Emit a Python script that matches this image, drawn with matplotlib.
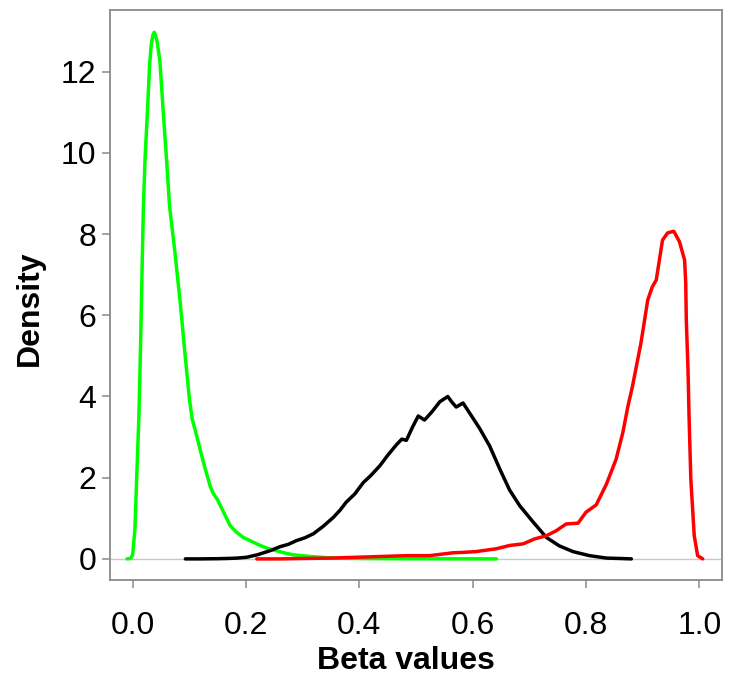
#!/usr/bin/env python3
import matplotlib

matplotlib.use("Agg")

import matplotlib.pyplot as plt


OUTPUT_PNG = "out.png"

# density curves (x = beta value, y = density)
green_x = [-0.010, -0.004, 0.000, 0.004, 0.007, 0.011, 0.014, 0.017, 0.019, 0.022,
           0.026, 0.030, 0.033, 0.036, 0.038, 0.040, 0.043, 0.048, 0.054, 0.060,
           0.065, 0.075, 0.084, 0.092, 0.100, 0.105, 0.110, 0.119, 0.125, 0.137,
           0.142, 0.150, 0.157, 0.164, 0.172, 0.183, 0.195, 0.207, 0.225, 0.240,
           0.254, 0.270, 0.283, 0.298, 0.313, 0.333, 0.353, 0.400, 0.450, 0.500,
           0.550, 0.600, 0.642]
green_y = [0.0, 0.01, 0.10, 0.74, 1.96, 3.5, 5.3, 7.4, 8.7, 9.9,
           11.0, 12.2, 12.7, 12.92, 12.97, 12.92, 12.75, 12.27, 11.0, 9.8,
           8.7, 7.5, 6.3, 5.1, 3.95, 3.45, 3.19, 2.7, 2.37, 1.78,
           1.62, 1.45, 1.25, 1.05, 0.82, 0.66, 0.53, 0.45, 0.33, 0.25,
           0.20, 0.14, 0.10, 0.08, 0.06, 0.04, 0.02, 0.01, 0.005, 0.003,
           0.002, 0.001, 0.0]

black_x = [0.093, 0.120, 0.150, 0.166, 0.185, 0.201, 0.220, 0.242, 0.260, 0.275,
           0.289, 0.304, 0.319, 0.336, 0.354, 0.366, 0.377, 0.392, 0.407, 0.420,
           0.436, 0.450, 0.466, 0.475, 0.483, 0.494, 0.504, 0.515, 0.528, 0.542,
           0.556, 0.564, 0.571, 0.583, 0.598, 0.612, 0.630, 0.648, 0.665, 0.683,
           0.706, 0.730, 0.753, 0.777, 0.806, 0.836, 0.860, 0.880]
black_y = [0.0, 0.0, 0.005, 0.01, 0.02, 0.04, 0.10, 0.20, 0.30, 0.36,
           0.45, 0.52, 0.62, 0.80, 1.02, 1.20, 1.40, 1.60, 1.88, 2.05,
           2.29, 2.55, 2.82, 2.95, 2.92, 3.25, 3.52, 3.42, 3.62, 3.87,
           4.0, 3.85, 3.74, 3.84, 3.52, 3.22, 2.78, 2.21, 1.70, 1.31,
           0.92, 0.53, 0.32, 0.18, 0.08, 0.02, 0.01, 0.0]

red_x = [0.219, 0.260, 0.300, 0.350, 0.395, 0.440, 0.483, 0.524, 0.565, 0.583,
         0.606, 0.642, 0.665, 0.689, 0.709, 0.730, 0.747, 0.765, 0.786, 0.800,
         0.818, 0.836, 0.853, 0.865, 0.874, 0.882, 0.897, 0.909, 0.917, 0.924,
         0.935, 0.944, 0.955, 0.965, 0.974, 0.976, 0.977, 0.980, 0.982, 0.985,
         0.991, 0.997, 1.006]
red_y = [0.0, 0.0, 0.01, 0.02, 0.04, 0.06, 0.08, 0.08, 0.15, 0.16,
         0.18, 0.25, 0.33, 0.37, 0.49, 0.57, 0.69, 0.86, 0.88, 1.15,
         1.33, 1.84, 2.45, 3.11, 3.76, 4.25, 5.32, 6.38, 6.70, 6.87,
         7.85, 8.03, 8.07, 7.81, 7.36, 6.80, 5.89, 4.66, 3.44, 1.96,
         0.57, 0.08, 0.0]

x_ticks = [0.0, 0.2, 0.4, 0.6, 0.8, 1.0]
x_tick_labels = ["0.0", "0.2", "0.4", "0.6", "0.8", "1.0"]
y_ticks = [0, 2, 4, 6, 8, 10, 12]


def main():
    plt.rcParams["font.family"] = ["Liberation Sans", "DejaVu Sans"]

    fig = plt.figure(figsize=(7.3, 6.92), dpi=100)
    ax = fig.add_axes([110 / 730, 1 - 580 / 692, 612 / 730, 570 / 692])

    ax.axhline(0, color="#c8c8c8", lw=1.0, zorder=0)
    ax.plot(green_x, green_y, color="#00ff00", lw=2.5,
            solid_capstyle="round", solid_joinstyle="round")
    ax.plot(black_x, black_y, color="black", lw=2.5,
            solid_capstyle="round", solid_joinstyle="round")
    ax.plot(red_x, red_y, color="#ff0000", lw=2.5,
            solid_capstyle="round", solid_joinstyle="round")

    ax.set_xlim(-0.04, 1.04)
    ax.set_ylim(-0.52, 13.52)
    ax.set_xticks(x_ticks)
    ax.set_xticklabels(x_tick_labels)
    ax.set_yticks(y_ticks)

    for spine in ax.spines.values():
        spine.set_color("#8a8a8a")
        spine.set_linewidth(1.3)
    ax.tick_params(axis="both", colors="#8a8a8a", labelcolor="black",
                   labelsize=23, length=6, width=1.1)
    ax.tick_params(axis="x", pad=16)
    ax.tick_params(axis="y", pad=4)

    ax.set_xlabel("Beta values", fontsize=23, fontweight="bold")
    ax.xaxis.set_label_coords(0.484, -0.142)
    ax.xaxis.label.set_va("center")
    ax.set_ylabel("Density", fontsize=23, fontweight="bold")
    ax.yaxis.set_label_coords(-0.131, 0.477)
    ax.yaxis.label.set_va("center")

    fig.savefig(OUTPUT_PNG, dpi=100)
    plt.close(fig)


if __name__ == "__main__":
    main()
